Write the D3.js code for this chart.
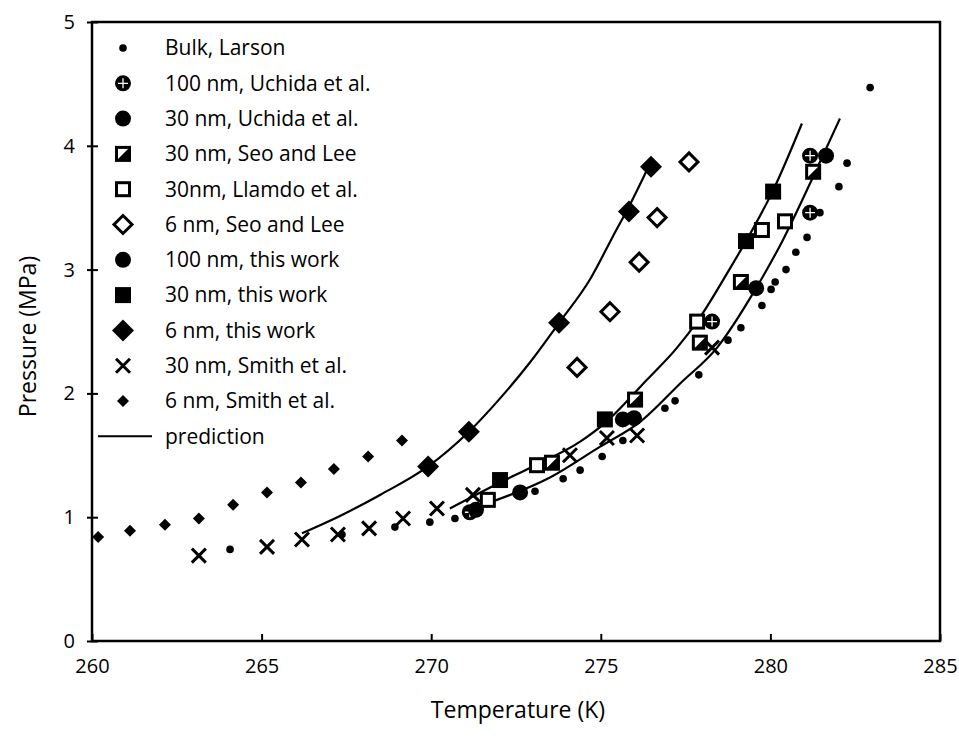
<!DOCTYPE html>
<html>
<head>
<meta charset="utf-8">
<script src="https://cdn.jsdelivr.net/npm/d3@7"></script>
<style>
  body { margin: 0; background: #fff; }
  svg text { font-family: "Open Sans", "Noto Sans", sans-serif; fill: #000; }
</style>
</head>
<body>
<svg id="chart"></svg>
<script>
const W = 959, H = 752
const margins = { top: 22, bottom: 111, left: 92, right: 19 }

// tick labels
const xTicks = [260, 265, 270, 275, 280, 285]
const yTicks = [0, 1, 2, 3, 4, 5]

// series values [temperature K, pressure MPa]
const bulkLarson = [[264.07,0.74],[267.37,0.86],[268.93,0.92],[269.96,0.96],[270.70,0.99],[273.06,1.21],[273.89,1.31],[274.39,1.38],
  [275.04,1.49],[275.65,1.62],[276.89,1.88],[277.19,1.94],[277.89,2.15],[278.75,2.43],[279.13,2.53],[279.75,2.71],
  [280.02,2.84],[280.14,2.90],[280.46,3.00],[280.75,3.14],[281.08,3.26],[281.46,3.46],[282.02,3.67],[282.26,3.86],[282.94,4.47]]
const uchida100 = [[271.14,1.04],[278.28,2.58],[281.17,3.46],[281.17,3.92]]
const uchida30 = [[272.62,1.20],[275.65,1.79]]
const seoLee30 = [[273.56,1.44],[276.01,1.95],[277.92,2.41],[279.13,2.90],[281.26,3.79]]
const llamedo30 = [[271.67,1.14],[273.12,1.42],[277.84,2.58],[279.75,3.32],[280.43,3.39]]
const seoLee6 = [[274.30,2.21],[275.27,2.66],[276.13,3.06],[276.66,3.42],[277.60,3.87]]
const work100 = [[271.32,1.06],[275.98,1.80],[279.58,2.85],[281.64,3.92]]
const work30 = [[272.03,1.30],[275.12,1.79],[279.28,3.23],[280.08,3.63]]
const work6 = [[269.91,1.41],[271.11,1.69],[273.77,2.57],[275.83,3.47],[276.48,3.83]]
const smith30 = [[263.15,0.69],[265.16,0.76],[266.19,0.82],[267.25,0.86],[268.17,0.91],[269.17,0.99],[270.17,1.07],
  [271.23,1.18],[274.09,1.50],[275.18,1.64],[276.07,1.66],[278.28,2.37]]
const smith6 = [[260.18,0.84],[261.12,0.89],[262.15,0.94],[263.15,0.99],[264.16,1.10],[265.16,1.20],[266.16,1.28],
  [267.13,1.39],[268.14,1.49],[269.14,1.62]]

// prediction curves
const pred6 = [[266.19,0.87],[267.31,1.01],[268.49,1.18],[269.91,1.41],[271.11,1.69],[272.03,1.96],[272.91,2.25],
  [273.77,2.57],[274.68,2.92],[275.36,3.27],[275.83,3.51],[276.51,3.89]]
const pred30 = [[270.55,1.07],[272.03,1.28],[273.00,1.41],[274.39,1.61],[275.12,1.76],[276.36,2.11],[277.25,2.37],
  [277.84,2.58],[278.81,3.01],[279.28,3.23],[280.08,3.64],[280.93,4.18]]
const pred100 = [[271.53,1.10],[273.50,1.32],[274.98,1.57],[276.16,1.77],[277.34,2.08],[278.43,2.37],[279.60,2.86],
  [280.37,3.24],[281.26,3.75],[282.05,4.22]]

const legendLabels = ["Bulk, Larson", "100 nm, Uchida et al.", "30 nm, Uchida et al.", "30 nm, Seo and Lee",
  "30nm, Llamdo et al.", "6 nm, Seo and Lee", "100 nm, this work", "30 nm, this work", "6 nm, this work",
  "30 nm, Smith et al.", "6 nm, Smith et al.", "prediction"]

const series = [
  { data: bulkLarson, mark: "dot" },
  { data: uchida100, mark: "crossCircle" },
  { data: uchida30, mark: "circle" },
  { data: seoLee30, mark: "halfSquare" },
  { data: llamedo30, mark: "openSquare" },
  { data: seoLee6, mark: "openDiamond" },
  { data: work100, mark: "circle" },
  { data: work30, mark: "square" },
  { data: work6, mark: "diamond" },
  { data: smith30, mark: "x" },
  { data: smith6, mark: "smallDiamond" }
]

const width = W - margins.left - margins.right
const height = H - margins.top - margins.bottom

const svg = d3.select("#chart").attr("width", W).attr("height", H)
const g = svg.append("g").attr("transform", "translate(" + margins.left + "," + margins.top + ")")

const x = d3.scaleLinear().domain([260, 285]).range([0, width])
const y = d3.scaleLinear().domain([0, 5]).range([height, 0])

// frame
g.append("rect").attr("x", 0).attr("y", 0).attr("width", width).attr("height", height)
  .attr("fill", "none").attr("stroke", "#000").attr("stroke-width", 2.5)

// x axis
const xAxis = g.append("g").attr("transform", "translate(0," + height + ")")
  .call(d3.axisBottom(x).tickValues(xTicks).tickSize(-7).tickPadding(18).tickFormat(d3.format("d")))
xAxis.select(".domain").remove()
xAxis.selectAll("line").attr("stroke-width", 2)
xAxis.selectAll("text").attr("font-size", "20px")

// y axis
const yAxis = g.append("g")
  .call(d3.axisLeft(y).tickValues(yTicks).tickSize(5).tickPadding(12).tickFormat(d3.format("d")))
yAxis.select(".domain").remove()
yAxis.selectAll("line").attr("x2", 6).attr("x1", -5).attr("stroke-width", 2)
yAxis.selectAll("text").attr("font-size", "20px")

// axis titles
svg.append("text").attr("x", margins.left + width / 2 + 2).attr("y", 718)
  .attr("text-anchor", "middle").attr("font-size", "23px").text("Temperature (K)")
svg.append("text").attr("transform", "translate(36," + (margins.top + height / 2 + 5) + ") rotate(-90)")
  .attr("text-anchor", "middle").attr("font-size", "23px").text("Pressure (MPa)")

// prediction lines
const line = d3.line().x(d => x(d[0])).y(d => y(d[1])).curve(d3.curveMonotoneX)
;[pred6, pred30, pred100].forEach(function (p) {
  g.append("path").datum(p).attr("d", line)
    .attr("fill", "none").attr("stroke", "#000").attr("stroke-width", 2.2)
})

// draw one marker at cx, cy
function drawMark(sel, mark, cx, cy) {
  const m = sel.append("g").attr("transform", "translate(" + cx + "," + cy + ")")
  if (mark == "dot") {
    m.append("circle").attr("r", 3.8).attr("fill", "#000")
  } else if (mark == "circle") {
    m.append("circle").attr("r", 8).attr("fill", "#000")
  } else if (mark == "crossCircle") {
    m.append("circle").attr("r", 8).attr("fill", "#000")
    m.append("path").attr("d", "M-5,0H5M0,-5V5").attr("stroke", "#fff").attr("stroke-width", 1.3)
  } else if (mark == "square") {
    m.append("rect").attr("x", -8).attr("y", -8).attr("width", 16).attr("height", 16).attr("fill", "#000")
  } else if (mark == "openSquare") {
    m.append("rect").attr("x", -6.5).attr("y", -6.5).attr("width", 13).attr("height", 13)
      .attr("fill", "#fff").attr("stroke", "#000").attr("stroke-width", 3)
  } else if (mark == "halfSquare") {
    m.append("rect").attr("x", -6.5).attr("y", -6.5).attr("width", 13).attr("height", 13)
      .attr("fill", "#fff").attr("stroke", "#000").attr("stroke-width", 3)
    m.append("path").attr("d", "M-6.5,6.5L6.5,-6.5L6.5,6.5Z").attr("fill", "#000")
  } else if (mark == "diamond") {
    m.append("path").attr("d", "M0,-11L11,0L0,11L-11,0Z").attr("fill", "#000")
  } else if (mark == "openDiamond") {
    m.append("path").attr("d", "M0,-9L9,0L0,9L-9,0Z")
      .attr("fill", "#fff").attr("stroke", "#000").attr("stroke-width", 3)
  } else if (mark == "smallDiamond") {
    m.append("path").attr("d", "M0,-6L6,0L0,6L-6,0Z").attr("fill", "#000")
  } else if (mark == "x") {
    m.append("path").attr("d", "M-7,-7L7,7M7,-7L-7,7").attr("stroke", "#000").attr("stroke-width", 3)
  }
}

// markers
series.forEach(function (s) {
  const layer = g.append("g")
  s.data.forEach(function (d) { drawMark(layer, s.mark, x(d[0]), y(d[1])) })
})

// legend
const legend = svg.append("g")
legendLabels.forEach(function (label, i) {
  const ly = 48 + i * 35.3
  if (i < series.length) {
    drawMark(legend, series[i].mark, 123, ly)
  } else {
    legend.append("line").attr("x1", 98).attr("x2", 152).attr("y1", ly).attr("y2", ly)
      .attr("stroke", "#000").attr("stroke-width", 2)
  }
  legend.append("text").attr("x", 165).attr("y", ly).attr("dy", "0.35em")
    .attr("font-size", "21px").text(label)
})
</script>
</body>
</html>
